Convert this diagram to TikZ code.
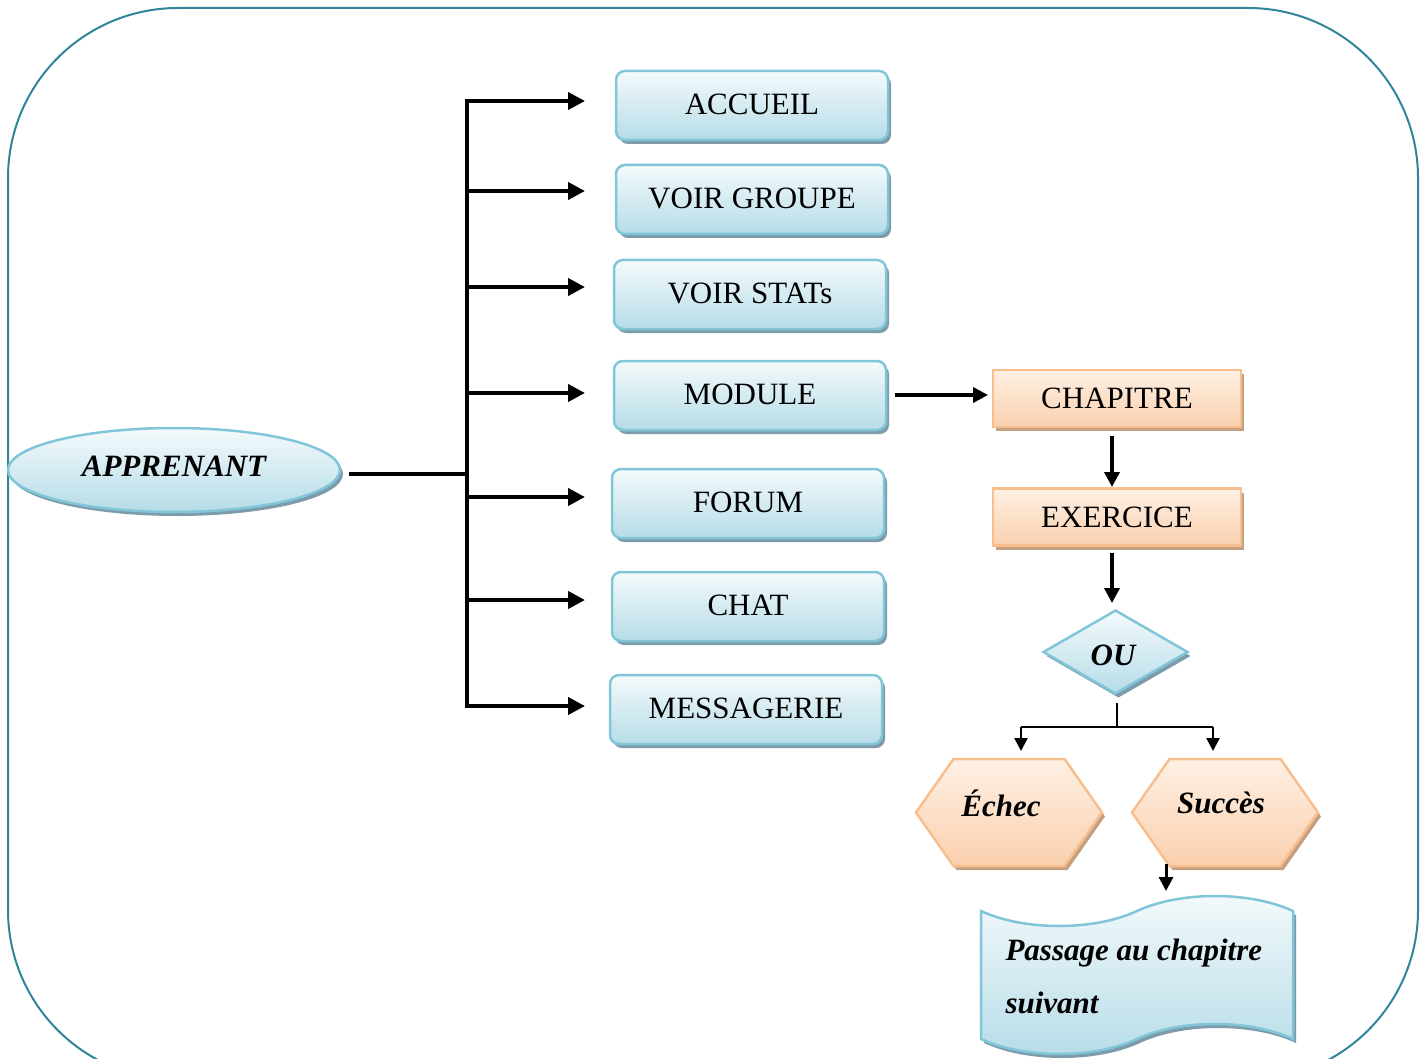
\documentclass[tikz,border=0pt]{standalone}
\usepackage{fontspec}
\setmainfont{Liberation Serif}
\usetikzlibrary{shapes.geometric,shapes.symbols,shadows,arrows.meta}
\definecolor{frameline}{RGB}{49,133,155}
\definecolor{bluetop}{RGB}{244,250,252}
\definecolor{bluebot}{RGB}{182,220,231}
\definecolor{blueedge}{RGB}{128,198,216}
\definecolor{blueshadow}{RGB}{125,155,170}
\definecolor{orangetop}{RGB}{254,240,228}
\definecolor{orangebot}{RGB}{250,208,174}
\definecolor{orangeedge}{RGB}{249,190,142}
\definecolor{orangeshadow}{RGB}{196,160,130}
\begin{document}
\begin{tikzpicture}[x=1pt,y=-1pt,
  txt/.style={font=\fontsize{31}{36}\selectfont},
  bluebox/.style={txt, rectangle, rounded corners=9pt, draw=blueedge, line width=2.5pt,
    top color=bluetop, bottom color=bluebot, minimum width=272pt, minimum height=69pt,
    drop shadow={shadow xshift=3pt, shadow yshift=-4pt, fill=blueshadow, opacity=1}},
  bluefill/.style={draw=blueedge, line width=2.5pt, top color=bluetop, bottom color=bluebot,
    drop shadow={shadow xshift=3pt, shadow yshift=-4pt, fill=blueshadow, opacity=1}},
  orangefill/.style={draw=orangeedge, line width=2.5pt, top color=orangetop, bottom color=orangebot,
    drop shadow={shadow xshift=3pt, shadow yshift=-4pt, fill=orangeshadow, opacity=1}},
  orangebox/.style={txt, orangefill, rectangle, minimum width=248pt, minimum height=57pt},
  hexbox/.style={orangefill, shape=signal, signal to=west and east, signal pointer angle=110,
    minimum width=186pt, minimum height=107pt, inner sep=0pt},
  label/.style={txt, font=\fontsize{31}{36}\selectfont\bfseries\itshape},
  bigarrow/.style={line width=4pt, -{Triangle[length=17pt,width=17pt]}},
  midarrow/.style={line width=3.5pt, -{Triangle[length=15pt,width=15pt]}},
  smallarrow/.style={line width=2.5pt, -{Triangle[length=13pt,width=13pt]}},
  bigline/.style={line width=4pt},
  smallline/.style={line width=2pt}]
\useasboundingbox (0,0) rectangle (1426,1059);
\clip (0,0) rectangle (1426,1059);
% outer frame
\draw[frameline, line width=2pt, rounded corners=170pt] (8,8) rectangle (1418,1080);

% learner
\node[bluefill, ellipse, minimum width=332pt, minimum height=84pt, inner sep=0pt]
  (app) at (174,470) {};
\node[label] (apptext) at (174,466) {APPRENANT};

% menu entries
\node[bluebox] (acc) at (752,105.5) {\raisebox{2pt}{ACCUEIL}};
\node[bluebox] (grp) at (752,199.5) {\raisebox{2pt}{VOIR GROUPE}};
\node[bluebox] (sta) at (750,294.5) {\raisebox{2pt}{VOIR STATs}};
\node[bluebox] (mod) at (750,395.5) {\raisebox{2pt}{MODULE}};
\node[bluebox] (frm) at (748,503.5) {\raisebox{2pt}{FORUM}};
\node[bluebox] (cht) at (748,606.5) {\raisebox{2pt}{CHAT}};
\node[bluebox] (msg) at (746,709.5) {\raisebox{2pt}{MESSAGERIE}};

% distribution bus
\coordinate (busin) at (349,474);
\coordinate (busmid) at (467,474);
\coordinate (bustop) at (467,101);
\coordinate (busbot) at (467,706);
\draw[bigline] (busin) -- (busmid);
\draw[bigline, line cap=rect] (bustop) -- (busbot);
\foreach \y in {101,191,287,393,497,600,706}
  \draw[bigarrow] (467,\y) -- (585,\y);

% module path
\node[orangebox] (chap) at (1117,398.5) {CHAPITRE};
\node[orangebox] (exer) at (1117,517) {EXERCICE};
\node[bluefill, diamond, aspect=1.73, minimum width=145pt, minimum height=84pt, inner sep=0pt]
  (ou) at (1115.5,652) {};
\node[label] (outext) at (1113,655) {OU};
\node[hexbox] (echec) at (1009,812.5) {};
\node[label] (echectext) at (1001,803) {Échec};
\node[hexbox] (succes) at (1225,812.5) {};
\node[label] (successtext) at (1221,803) {Succès};
\node[bluefill, tape, tape bend top=in and out, tape bend bottom=in and out,
  tape bend height=30pt, minimum width=312pt, minimum height=158pt, inner sep=0pt]
  (next) at (1137,975) {};
\node[label, anchor=base west] (nextline1) at (1002,960) {Passage au chapitre};
\begin{scope}
  \clip (990,900) rectangle (1290,1013);
  \node[label, anchor=base west] (nextline2) at (1002,1013) {suivant};
\end{scope}

\draw[midarrow] (895,395) -- (988,395);
\draw[midarrow] (1112,436) -- (1112,487);
\draw[midarrow] (1112,553) -- (1112,603);

\coordinate (ouout) at (1117,703);
\coordinate (split) at (1117,727);
\coordinate (splitl) at (1021,727);
\coordinate (splitr) at (1213,727);
\draw[smallline] (ouout) -- (split);
\draw[smallline] (splitl) -- (splitr);
\draw[smallarrow] (splitl) -- (1021,751);
\draw[smallarrow] (splitr) -- (1213,751);
\draw[line width=3pt, -{Triangle[length=14pt,width=14pt]}] (1166,864) -- (1166,891);
\end{tikzpicture}
\end{document}
